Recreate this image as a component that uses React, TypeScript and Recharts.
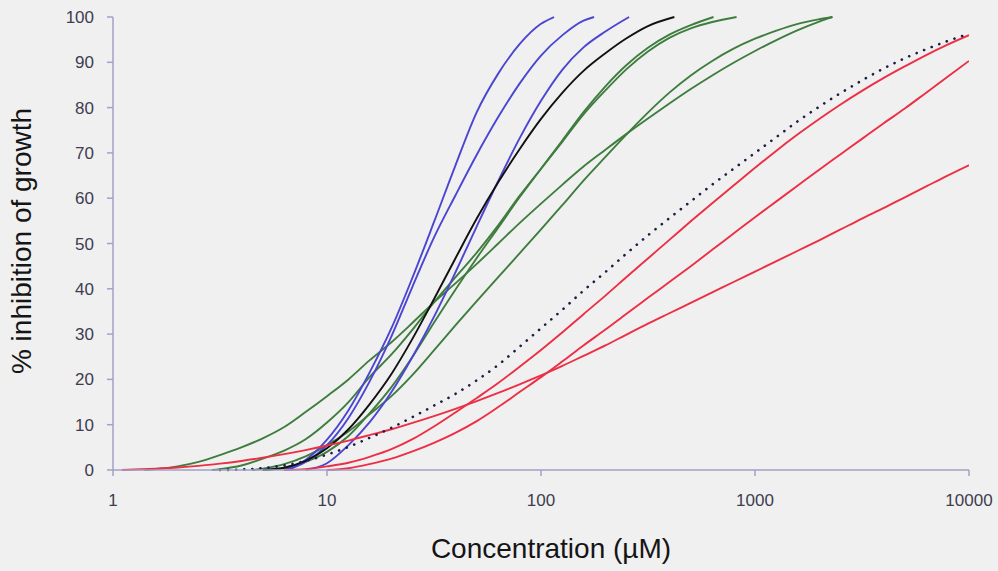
import { LineChart, Line, XAxis, YAxis, Label } from "recharts";

// concentration (µM) vs % inhibition
const xTicks = [1, 10, 100, 1000, 10000];
const yTicks = [0, 10, 20, 30, 40, 50, 60, 70, 80, 90, 100];

const blueA: [number, number][] = [
  [6.31, 0], [7.94, 2.2], [10, 6.7], [12.6, 13.2], [15.8, 21.5], [20, 31.3], [25.1, 42.5],
  [31.6, 54.7], [39.8, 67.2], [50.1, 79], [63.1, 87.5], [79.4, 94], [100, 98.5], [115, 100],
];
const blueB: [number, number][] = [
  [6.5, 0], [7.94, 1.8], [10, 5.5], [12.6, 11.5], [15.8, 19.5], [20, 29.5], [25.1, 40.5],
  [31.6, 51.3], [39.8, 60.6], [50.1, 69.6], [63.1, 77.9], [79.4, 85.3], [100, 91.5],
  [126, 96], [158, 99.2], [177, 100],
];
const blueC: [number, number][] = [
  [7.94, 0], [10, 1.5], [12.6, 5.5], [15.8, 10.5], [20, 17.2], [25.1, 25], [31.6, 33.8],
  [39.8, 43.6], [50.1, 53.8], [63.1, 63.8], [79.4, 73.2], [100, 81.5], [126, 88.4],
  [158, 93.3], [200, 96.8], [258, 100],
];
const black: [number, number][] = [
  [5.01, 0], [6.31, 0.5], [7.94, 2], [10, 4.8], [12.6, 9], [15.8, 14.5], [20, 21.2],
  [25.1, 29], [31.6, 37.7], [39.8, 46.7], [50.1, 55.5], [63.1, 63.5], [79.4, 70.8],
  [100, 77.5], [126, 83.3], [158, 88.1], [200, 92], [251, 95.3], [316, 98], [420, 100],
];
const green1: [number, number][] = [
  [2.9, 0], [3.16, 0.2], [3.98, 1], [5.01, 2.5], [6.31, 4.3], [7.94, 6.8], [10, 10.5],
  [12.6, 15], [15.8, 20.5], [20, 25.5], [25.1, 31], [31.6, 37], [39.8, 42.5], [50.1, 48],
  [63.1, 54], [79.4, 60.5], [100, 66.5], [126, 72.5], [158, 78.5], [200, 83.8], [251, 88.5],
  [316, 92.4], [398, 95.4], [501, 97.5], [631, 98.9], [820, 100],
];
const green2: [number, number][] = [
  [5.01, 0], [6.31, 0.5], [7.94, 1.8], [10, 4], [12.6, 7.5], [15.8, 12.5], [20, 18.3],
  [25.1, 25], [31.6, 32.5], [39.8, 39.8], [50.1, 46.8], [63.1, 53.5], [79.4, 60.2],
  [100, 66.5], [126, 72.8], [158, 79], [200, 84.7], [251, 89.4], [316, 93.2], [398, 96.1],
  [501, 98.2], [640, 100],
];
const green3: [number, number][] = [
  [1.4, 0], [1.58, 0.2], [2, 0.8], [2.51, 1.8], [3.16, 3.3], [3.98, 5], [5.01, 7],
  [6.31, 9.5], [7.94, 12.8], [10, 16.3], [12.6, 20], [15.8, 24.2], [20, 28.2], [25.1, 32.5],
  [31.6, 37], [39.8, 41.2], [50.1, 45.5], [63.1, 50], [79.4, 54.5], [100, 58.8], [126, 63],
  [158, 67], [200, 70.7], [251, 74.2], [316, 77.6], [398, 80.9], [501, 84.1], [631, 87.1],
  [794, 89.9], [1000, 92.5], [1259, 94.9], [1585, 97.1], [1995, 99], [2300, 100],
];
const green4: [number, number][] = [
  [4.5, 0], [5.01, 0.3], [6.31, 1.3], [7.94, 3], [10, 5.5], [12.6, 8.5], [15.8, 12.3],
  [20, 16.3], [25.1, 21], [31.6, 26.4], [39.8, 31.9], [50.1, 37.3], [63.1, 42.6], [79.4, 47.8],
  [100, 53.1], [126, 58.5], [158, 63.9], [200, 69.1], [251, 74.1], [316, 78.9], [398, 83.3],
  [501, 87.1], [631, 90.3], [794, 93], [1000, 95.2], [1259, 97], [1585, 98.5], [1995, 99.5],
  [2300, 100],
];
const red1: [number, number][] = [
  [6.31, 0], [7.94, 0.2], [10, 0.8], [12.6, 1.6], [15.8, 2.9], [20, 4.6], [25.1, 6.8],
  [31.6, 9.6], [39.8, 12.7], [50.1, 15.9], [63.1, 19.2], [79.4, 22.8], [100, 26.5],
  [126, 30.4], [158, 34.4], [200, 38.5], [251, 42.6], [316, 46.7], [398, 50.8], [501, 54.9],
  [631, 58.9], [794, 62.8], [1000, 66.7], [1259, 70.5], [1585, 74.1], [1995, 77.5],
  [2512, 80.7], [3162, 83.7], [3981, 86.5], [5012, 89.1], [6310, 91.6], [7943, 93.9],
  [10000, 96],
];
const red2: [number, number][] = [
  [10, 0], [12.6, 0.4], [15.8, 1.3], [20, 2.5], [25.1, 4.1], [31.6, 6], [39.8, 8.2],
  [50.1, 10.8], [63.1, 13.9], [79.4, 17.2], [100, 20.5], [126, 24], [158, 27.5], [200, 31],
  [251, 34.5], [316, 38], [398, 41.5], [501, 45], [631, 48.6], [794, 52.2], [1000, 55.8],
  [1259, 59.3], [1585, 62.8], [1995, 66.3], [2512, 69.7], [3162, 73.1], [3981, 76.5],
  [5012, 79.8], [6310, 83.3], [7943, 86.8], [10000, 90.3],
];
const red3: [number, number][] = [
  [1.1, 0], [1.26, 0.1], [1.58, 0.3], [2, 0.55], [2.51, 0.9], [3.16, 1.4], [3.98, 2],
  [5.01, 2.7], [6.31, 3.5], [7.94, 4.4], [10, 5.4], [12.6, 6.5], [15.8, 7.7], [20, 9],
  [25.1, 10.4], [31.6, 11.9], [39.8, 13.5], [50.1, 15.2], [63.1, 17], [79.4, 18.9],
  [100, 20.9], [126, 23], [158, 25.2], [200, 27.5], [251, 29.9], [316, 32.3], [398, 34.6],
  [501, 36.9], [631, 39.2], [794, 41.5], [1000, 43.8], [1259, 46.1], [1585, 48.4],
  [1995, 50.7], [2512, 53.1], [3162, 55.5], [3981, 57.8], [5012, 60.2], [6310, 62.6],
  [7943, 65], [10000, 67.3],
];
const dotted: [number, number][] = [
  [3.16, 0], [3.98, 0.1], [5.01, 0.4], [6.31, 1], [7.94, 2], [10, 3.4], [12.6, 5.1],
  [15.8, 7.1], [20, 9.3], [25.1, 11.7], [31.6, 14.2], [39.8, 16.8], [50.1, 19.8], [63.1, 23.2],
  [79.4, 27.2], [100, 31.3], [126, 35.4], [158, 39.6], [200, 43.7], [251, 47.8], [316, 51.8],
  [398, 55.6], [501, 59.3], [631, 63], [794, 66.5], [1000, 70], [1259, 73.5], [1585, 77],
  [1995, 80.2], [2512, 83.2], [3162, 86], [3981, 88.6], [5012, 90.9], [6310, 92.9],
  [7943, 94.7], [10000, 96.3],
];

const BLUE = "#4b45d2";
const GREEN = "#3e7d3e";
const RED = "#ec2f45";
const AXIS = "#a2a2c8";
const FONT = "'Liberation Sans', Arial, sans-serif";

const series = [
  { id: "green3", pts: green3, color: GREEN },
  { id: "green4", pts: green4, color: GREEN },
  { id: "green1", pts: green1, color: GREEN },
  { id: "green2", pts: green2, color: GREEN },
  { id: "blueA", pts: blueA, color: BLUE },
  { id: "blueB", pts: blueB, color: BLUE },
  { id: "blueC", pts: blueC, color: BLUE },
  { id: "black", pts: black, color: "#111111" },
  { id: "red1", pts: red1, color: RED },
  { id: "red2", pts: red2, color: RED },
  { id: "red3", pts: red3, color: RED },
];

const toRows = (pts: [number, number][]) => pts.map(([x, y]) => ({ x, y }));

export default function App() {
  return (
    <div
      style={{
        position: "absolute",
        left: 0,
        top: 0,
        width: 998,
        height: 571,
        background: "#f0f0f0",
        fontFamily: FONT,
      }}
    >
      <LineChart width={998} height={571} margin={{ top: 17, right: 29, left: 0, bottom: 0 }}>
        <XAxis
          dataKey="x"
          type="number"
          scale="log"
          domain={[1, 10000]}
          ticks={xTicks}
          allowDataOverflow
          height={101}
          stroke={AXIS}
          strokeWidth={1.5}
          tickSize={6}
          tickMargin={18}
          tick={{ fontSize: 17, fill: "#3d3d4f", fontFamily: FONT }}
        >
          <Label
            content={() => (
              <text x={551} y={558} textAnchor="middle" fontSize={28} fill="#151515" fontFamily={FONT}>
                Concentration (µM)
              </text>
            )}
          />
        </XAxis>
        <YAxis
          dataKey="y"
          type="number"
          domain={[0, 100]}
          ticks={yTicks}
          width={113}
          stroke={AXIS}
          strokeWidth={1.5}
          tickSize={6}
          tickMargin={13}
          tick={{ fontSize: 17, fill: "#3d3d4f", fontFamily: FONT }}
        >
          <Label
            content={() => (
              <text
                x={31}
                y={241}
                transform="rotate(-90 31 241)"
                textAnchor="middle"
                fontSize={28}
                fill="#151515"
                fontFamily={FONT}
              >
                % inhibition of growth
              </text>
            )}
          />
        </YAxis>
        {series.map((s) => (
          <Line
            key={s.id}
            data={toRows(s.pts)}
            dataKey="y"
            type="monotone"
            stroke={s.color}
            strokeWidth={1.9}
            dot={false}
            activeDot={false}
            isAnimationActive={false}
          />
        ))}
        <Line
          data={toRows(dotted)}
          dataKey="y"
          type="monotone"
          stroke="#1d1d45"
          strokeWidth={2.6}
          strokeDasharray="0.1 8"
          strokeLinecap="round"
          dot={false}
          activeDot={false}
          isAnimationActive={false}
        />
      </LineChart>
    </div>
  );
}
